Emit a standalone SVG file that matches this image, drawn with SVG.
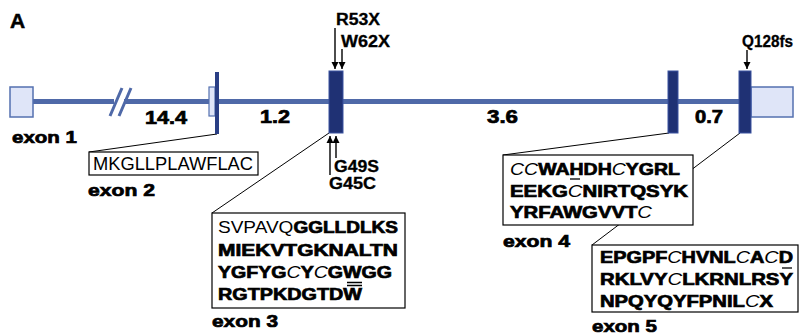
<svg xmlns="http://www.w3.org/2000/svg" width="805" height="335" viewBox="0 0 805 335">
<defs>
<style>
text{font-family:"Liberation Sans",Arial,sans-serif;fill:#000}
.b{font-weight:bold;stroke:#000;stroke-width:0.7}
.n{font-weight:normal;stroke:none}
.i{font-style:italic;font-weight:normal;stroke:none}
.seq{font-size:16.5px}
.lab{font-size:16.5px;font-weight:bold;stroke:#000;stroke-width:0.7}
.mut{font-size:16px;font-weight:bold;stroke:#000;stroke-width:0.3}
.box{fill:#fff;stroke:#000;stroke-width:1.2}
.conn{stroke:#000;stroke-width:1;fill:none}
.arr{stroke:#000;stroke-width:1.4;fill:none;marker-end:url(#ah)}
.utr{fill:#dfe5f8;stroke:#5470b0;stroke-width:1.5}
.cds{fill:#1f3174;stroke:#3a53a0;stroke-width:1}
.intron{stroke:#4f69a8;stroke-width:5;fill:none}
.mark{stroke:#000;stroke-width:1.3}
</style>
<marker id="ah" viewBox="0 0 10 10" refX="10" refY="5" markerUnits="userSpaceOnUse" markerWidth="7" markerHeight="8" orient="auto"><path d="M0,0 L10,5 L0,10 z" fill="#000"/></marker>
</defs>
<rect width="805" height="335" fill="#fff"/>
<text x="10" y="28" style="font-size:21px;font-weight:bold;stroke:#000;stroke-width:0.5">A</text>

<g id="connectors">
<path class="intron" d="M33,101.5 H114 M124,101.5 H742"/>
<path d="M110,116 L122,88 M119,116 L131,88" stroke="#4f69a8" stroke-width="3" fill="none"/>
<line class="conn" x1="217" y1="134" x2="89" y2="152"/>
<line class="conn" x1="329" y1="133" x2="212" y2="213"/>
<line class="conn" x1="669" y1="133" x2="503" y2="155"/>
<line class="conn" x1="740" y1="133" x2="592" y2="245"/>
<line class="arr" x1="335" y1="28" x2="335" y2="69"/>
<line class="arr" x1="342" y1="49" x2="342" y2="69"/>
<line class="arr" x1="336" y1="158" x2="336" y2="136"/>
<line class="arr" x1="330" y1="175" x2="330" y2="136"/>
<line class="arr" x1="747" y1="50" x2="747" y2="69"/>
</g>

<g id="exon1">
<rect class="utr" x="10" y="87" width="23" height="30"/>
<text class="lab" x="12" y="143" textLength="65" lengthAdjust="spacingAndGlyphs">exon 1</text>
</g>

<g id="intron1">
<text class="lab" x="145" y="124" style="font-size:17.5px" textLength="42" lengthAdjust="spacingAndGlyphs">14.4</text>
</g>

<g id="exon2">
<rect class="utr" x="209" y="87" width="6" height="29" style="stroke-width:1.2"/>
<rect x="215" y="72" width="4" height="62" fill="#2a3f85"/>
<rect class="box" x="89" y="152" width="169" height="23"/>
<text x="93" y="170" style="font-size:18px" textLength="160" lengthAdjust="spacingAndGlyphs">MKGLLPLAWFLAC</text>
<text class="lab" x="88" y="196" textLength="67" lengthAdjust="spacingAndGlyphs">exon 2</text>
</g>

<g id="intron2">
<text class="lab" x="260" y="123" style="font-size:17.5px" textLength="30" lengthAdjust="spacingAndGlyphs">1.2</text>
</g>

<g id="exon3">
<rect class="cds" x="329" y="71" width="14" height="62"/>
<text class="mut" x="336" y="25" textLength="44" lengthAdjust="spacingAndGlyphs">R53X</text>
<text class="mut" x="341" y="47" textLength="49" lengthAdjust="spacingAndGlyphs">W62X</text>
<text class="mut" x="334" y="172" textLength="45" lengthAdjust="spacingAndGlyphs">G49S</text>
<text class="mut" x="329" y="189" textLength="47" lengthAdjust="spacingAndGlyphs">G45C</text>
<rect class="box" x="212" y="213" width="193" height="95"/>
<text class="seq" x="218" y="233" textLength="180" lengthAdjust="spacingAndGlyphs"><tspan class="n">SVPAVQ</tspan><tspan class="b">GGLLDLKS</tspan></text>
<text class="seq b" x="218" y="256" textLength="180" lengthAdjust="spacingAndGlyphs">MIEKVTGKNALTN</text>
<text class="seq" x="218" y="278" textLength="174" lengthAdjust="spacingAndGlyphs"><tspan class="b">YGFYG</tspan><tspan class="i">C</tspan><tspan class="b">Y</tspan><tspan class="i">C</tspan><tspan class="b">GWGG</tspan></text>
<path class="mark" d="M347,282.5 H362 M347,285.5 H362"/>
<text class="seq b" x="218" y="300" textLength="144" lengthAdjust="spacingAndGlyphs">RGTPKDGTDW</text>
<text class="lab" x="212" y="327" textLength="66" lengthAdjust="spacingAndGlyphs">exon 3</text>
</g>

<g id="intron3">
<text class="lab" x="487" y="123" style="font-size:17.5px" textLength="31" lengthAdjust="spacingAndGlyphs">3.6</text>
</g>

<g id="exon4">
<rect class="cds" x="668" y="71" width="10" height="62"/>
<rect class="box" x="503" y="155" width="190" height="70"/>
<text class="seq" x="510" y="175" textLength="170" lengthAdjust="spacingAndGlyphs"><tspan class="i">CC</tspan><tspan class="b">WAHDH</tspan><tspan class="i">C</tspan><tspan class="b">YGRL</tspan></text>
<line class="mark" x1="570" y1="179" x2="580" y2="179"/>
<text class="seq" x="510" y="197" textLength="178" lengthAdjust="spacingAndGlyphs"><tspan class="b">EEKG</tspan><tspan class="i">C</tspan><tspan class="b">NIRTQSYK</tspan></text>
<text class="seq" x="510" y="218" textLength="142" lengthAdjust="spacingAndGlyphs"><tspan class="b">YRFAWGVVT</tspan><tspan class="i">C</tspan></text>
<text class="lab" x="503" y="247" textLength="67" lengthAdjust="spacingAndGlyphs">exon 4</text>
</g>

<g id="intron4">
<text class="lab" x="695" y="123" style="font-size:17.5px" textLength="28" lengthAdjust="spacingAndGlyphs">0.7</text>
</g>

<g id="exon5">
<rect class="utr" x="751" y="87" width="42" height="30"/>
<rect class="cds" x="739" y="71" width="12" height="62"/>
<text class="mut" x="742" y="47" textLength="51" lengthAdjust="spacingAndGlyphs">Q128fs</text>
<rect class="box" x="592" y="245" width="206" height="67"/>
<text class="seq" x="600" y="263" textLength="193" lengthAdjust="spacingAndGlyphs"><tspan class="b">EPGPF</tspan><tspan class="i">C</tspan><tspan class="b">HVNL</tspan><tspan class="i">C</tspan><tspan class="b">A</tspan><tspan class="i">C</tspan><tspan class="b">D</tspan></text>
<line class="mark" x1="782" y1="268" x2="792" y2="268"/>
<text class="seq" x="600" y="285" textLength="193" lengthAdjust="spacingAndGlyphs"><tspan class="b">RKLVY</tspan><tspan class="i">C</tspan><tspan class="b">LKRNLRSY</tspan></text>
<text class="seq" x="600" y="307" textLength="173" lengthAdjust="spacingAndGlyphs"><tspan class="b">NPQYQYFPNIL</tspan><tspan class="i">C</tspan><tspan class="b">X</tspan></text>
<text class="lab" x="592" y="332" textLength="65" lengthAdjust="spacingAndGlyphs">exon 5</text>
</g>
</svg>
